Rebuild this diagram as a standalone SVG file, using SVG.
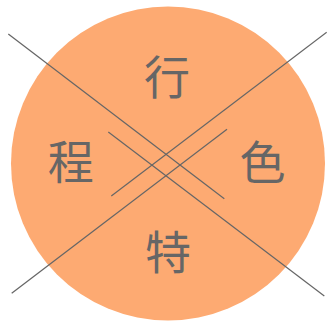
<svg xmlns="http://www.w3.org/2000/svg" width="327" height="325" viewBox="0 0 327 325">
<style>
.lbl{font-family:"Noto Sans CJK SC","Noto Sans CJK JP",sans-serif;font-size:46px;fill:#666666;text-anchor:middle}
.ln{stroke:#666666;stroke-width:1.2;fill:none}
</style>
<rect width="327" height="325" fill="#ffffff"/>
<g id="circle"><circle cx="168" cy="163.5" r="157" fill="#FDAA72"/></g>
<g id="connectors">
<line class="ln" x1="8.3" y1="34" x2="224.3" y2="198.7"/>
<line class="ln" x1="108.3" y1="132" x2="324.3" y2="296"/>
<line class="ln" x1="11.7" y1="293.3" x2="227" y2="129.3"/>
<line class="ln" x1="111.3" y1="196" x2="326.7" y2="32.3"/>
</g>
<g id="n-xing"><text class="lbl" x="167" y="93.5">行</text></g>
<g id="n-cheng"><text class="lbl" x="70.8" y="178.5">程</text></g>
<g id="n-se"><text class="lbl" x="262.5" y="178.5">色</text></g>
<g id="n-te"><text class="lbl" x="168" y="269">特</text></g>
</svg>
